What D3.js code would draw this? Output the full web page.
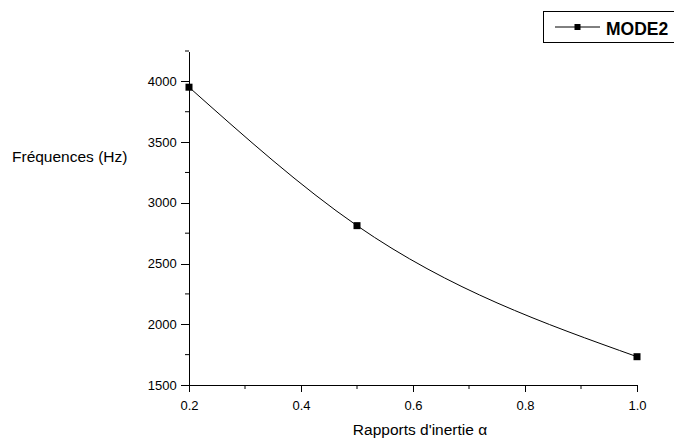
<!DOCTYPE html>
<html><head><meta charset="utf-8">
<script src="https://cdn.jsdelivr.net/npm/d3@7"></script>
<style>body{margin:0;background:#fff;}svg{display:block;font-family:Arial,"Liberation Sans",sans-serif;}</style>
</head><body>
<svg id="c" width="674" height="439"></svg>
<script>
const ratios = [0.2, 0.5, 1.0];
const mode2 = [3952, 2812, 1733];
const xTicks = [0.2, 0.4, 0.6, 0.8, 1.0];
const yTicks = [1500, 2000, 2500, 3000, 3500, 4000];
const seriesName = "MODE2";
const xTitle = "Rapports d'inertie α";
const yTitle = "Fréquences (Hz)";

// Custom d3 curve: natural cubic spline y(x), emitted as exact Bézier segments
function curveSplineX(context) {
  let xs, ys;
  return {
    areaStart() {}, areaEnd() {},
    lineStart() { xs = []; ys = []; },
    point(px, py) { xs.push(+px); ys.push(+py); },
    lineEnd() {
      const n = xs.length;
      if (!n) return;
      context.moveTo(xs[0], ys[0]);
      if (n === 1) return;
      const h = [], d = [];
      for (let i = 0; i < n - 1; i++) { h[i] = xs[i + 1] - xs[i]; d[i] = (ys[i + 1] - ys[i]) / h[i]; }
      const M = new Array(n).fill(0);
      if (n > 2) {
        const a = [], b = [], c = [], r = [];
        for (let i = 1; i < n - 1; i++) {
          a.push(h[i - 1]); b.push(2 * (h[i - 1] + h[i])); c.push(h[i]); r.push(6 * (d[i] - d[i - 1]));
        }
        const m = b.length;
        for (let i = 1; i < m; i++) { const w = a[i] / b[i - 1]; b[i] -= w * c[i - 1]; r[i] -= w * r[i - 1]; }
        const sol = new Array(m);
        sol[m - 1] = r[m - 1] / b[m - 1];
        for (let i = m - 2; i >= 0; i--) sol[i] = (r[i] - c[i] * sol[i + 1]) / b[i];
        for (let i = 0; i < m; i++) M[i + 1] = sol[i];
      }
      for (let i = 0; i < n - 1; i++) {
        const s0 = d[i] - h[i] * (2 * M[i] + M[i + 1]) / 6;
        const s1 = d[i] + h[i] * (M[i] + 2 * M[i + 1]) / 6;
        const t = h[i] / 3;
        context.bezierCurveTo(xs[i] + t, ys[i] + s0 * t, xs[i + 1] - t, ys[i + 1] - s1 * t, xs[i + 1], ys[i + 1]);
      }
    }
  };
}

const svg = d3.select("#c");
const x = d3.scaleLinear().domain([0.2, 1.0]).range([189, 637]);
const y = d3.scaleLinear().domain([1500, 4250]).range([385, 51]);

const xMinor = [0.3, 0.5, 0.7, 0.9];
const yMinor = [1750, 2250, 2750, 3250, 3750, 4250];

const xAxis = svg.append("g").attr("transform", "translate(0,385)")
  .call(d3.axisBottom(x).tickValues(xTicks).tickFormat(d3.format(".1f")).tickSize(7).tickSizeOuter(0));
xAxis.append("g").selectAll("line").data(xMinor).join("line")
  .attr("x1", d => x(d)).attr("x2", d => x(d)).attr("y1", 0).attr("y2", 4).attr("stroke", "#000");
const yAxis = svg.append("g").attr("transform", "translate(189,0)")
  .call(d3.axisLeft(y).tickValues(yTicks).tickFormat(d3.format("d")).tickSize(8).tickSizeOuter(0));
yAxis.append("g").selectAll("line").data(yMinor).join("line")
  .attr("y1", d => y(d)).attr("y2", d => y(d)).attr("x1", 0).attr("x2", -4).attr("stroke", "#000");

svg.selectAll(".domain").attr("stroke", "#000").attr("stroke-width", 1.2);
svg.selectAll(".tick line").attr("stroke", "#000");
xAxis.selectAll("text").attr("font-size", 13).attr("fill", "#000").attr("dy", "1.15em");
yAxis.selectAll("text").attr("font-size", 13).attr("fill", "#000").attr("dx", "-0.1em");
svg.selectAll(".domain, .tick line").attr("shape-rendering", "crispEdges");

const pts = ratios.map((r, i) => [r, mode2[i]]);
svg.append("path").datum(pts)
  .attr("d", d3.line().x(d => x(d[0])).y(d => y(d[1])).curve(curveSplineX))
  .attr("fill", "none").attr("stroke", "#000").attr("stroke-width", 1);
svg.append("g").selectAll("rect").data(pts).join("rect")
  .attr("x", d => x(d[0]) - 3.5).attr("y", d => y(d[1]) - 3.5)
  .attr("width", 7).attr("height", 7).attr("fill", "#000");

svg.append("text").attr("x", 12).attr("y", 162).attr("font-size", 15.5).attr("fill", "#000").text(yTitle);
svg.append("text").attr("x", 420).attr("y", 435).attr("text-anchor", "middle").attr("font-size", 15.5).attr("fill", "#000").text(xTitle);

// legend
const lg = svg.append("g");
lg.append("rect").attr("x", 543.5).attr("y", 11.5).attr("width", 140).attr("height", 31)
  .attr("fill", "#fff").attr("stroke", "#000").attr("stroke-width", 1);
lg.append("line").attr("x1", 555).attr("x2", 600).attr("y1", 27).attr("y2", 27).attr("stroke", "#000");
lg.append("rect").attr("x", 574.5).attr("y", 24).attr("width", 6).attr("height", 6).attr("fill", "#000");
lg.append("text").attr("x", 606).attr("y", 35).attr("font-size", 17.5).attr("font-weight", "bold").attr("fill", "#000").text(seriesName);
</script>
</body></html>
